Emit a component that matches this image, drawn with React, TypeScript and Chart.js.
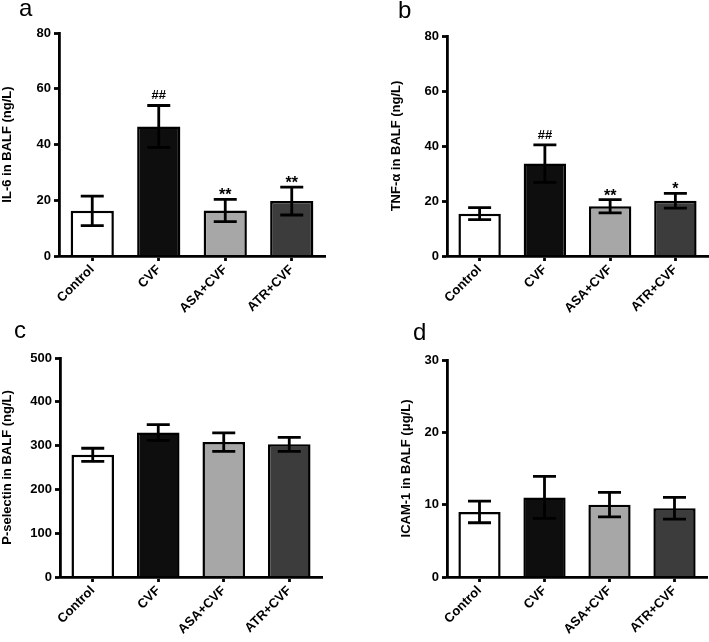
import React, { useEffect, useRef } from 'react';
import { Chart, registerables } from 'chart.js';

Chart.register(...registerables);

const FONT = '"Liberation Sans", Arial, Helvetica, sans-serif';

const categories = ['Control', 'CVF', 'ASA+CVF', 'ATR+CVF'];
const barColors = ['#ffffff', '#0e0e0e', '#a7a7a7', '#3c3c3c'];

const il6Means = [16.2, 46.5, 16.3, 19.7];
const il6Errors = [5.3, 7.5, 4.0, 5.0];
const il6Marks = ['', '##', '**', '**'];

const tnfMeans = [15.4, 33.6, 18.1, 20.1];
const tnfErrors = [2.2, 6.8, 2.4, 2.7];
const tnfMarks = ['', '##', '**', '*'];

const pselMeans = [279, 330, 308, 303];
const pselErrors = [15, 18, 21, 16];
const pselMarks = ['', '', '', ''];

const icamMeans = [9.0, 11.0, 10.0, 9.5];
const icamErrors = [1.5, 2.9, 1.7, 1.5];
const icamMarks = ['', '', '', ''];

type PanelProps = {
  left: number; top: number; width: number; height: number;
  yw: number; xh: number; padTop: number; padRight: number; titlePad: number;
  title: string; means: number[]; errors: number[]; marks: string[];
  max: number; step: number;
};

function Panel(p: PanelProps) {
  const ref = useRef<HTMLCanvasElement>(null);
  useEffect(() => {
    if (!ref.current) return;
    const errPlugin = {
      id: 'errbars',
      afterDatasetsDraw(chart: any) {
        const ctx = chart.ctx;
        const meta = chart.getDatasetMeta(0);
        const y = chart.scales.y;
        const cap = 11.5;
        ctx.save();
        ctx.strokeStyle = '#000';
        ctx.lineWidth = 2.8;
        ctx.lineCap = 'butt';
        meta.data.forEach((bar: any, i: number) => {
          const x = bar.x;
          const hi = y.getPixelForValue(p.means[i] + p.errors[i]);
          const lo = y.getPixelForValue(p.means[i] - p.errors[i]);
          ctx.beginPath();
          ctx.moveTo(x, hi); ctx.lineTo(x, lo);
          ctx.moveTo(x - cap, hi); ctx.lineTo(x + cap, hi);
          ctx.moveTo(x - cap, lo); ctx.lineTo(x + cap, lo);
          ctx.stroke();
          const m = p.marks[i];
          if (m) {
            ctx.fillStyle = '#000';
            ctx.textAlign = 'center';
            ctx.textBaseline = 'alphabetic';
            if (m.startsWith('#')) {
              ctx.font = `bold 13px ${FONT}`;
              ctx.fillText(m, x, hi - 6);
            } else {
              ctx.font = `bold 16px ${FONT}`;
              ctx.fillText(m, x, hi + 1);
            }
          }
        });
        ctx.restore();
      },
    };
    const chart = new Chart(ref.current, {
      type: 'bar',
      data: {
        labels: categories,
        datasets: [{
          data: p.means,
          backgroundColor: barColors,
          borderColor: '#000',
          borderWidth: 2.5,
          barPercentage: 0.65,
          categoryPercentage: 1,
        }],
      },
      options: {
        responsive: false,
        animation: false,
        devicePixelRatio: 1,
        layout: { padding: { top: p.padTop, right: p.padRight, left: 0, bottom: 0 } },
        plugins: { legend: { display: false }, tooltip: { enabled: false } },
        scales: {
          x: {
            afterFit: (s: any) => { s.height = p.xh; },
            grid: { offset: false, drawOnChartArea: false, drawTicks: true, tickLength: 5, tickColor: '#000', tickWidth: 2.8 },
            border: { display: true, color: '#000', width: 2.8, z: 1 },
            ticks: {
              color: '#000', minRotation: 45, maxRotation: 45, padding: 1, autoSkip: false,
              font: { family: FONT, size: 13, weight: 'bold' },
            },
          },
          y: {
            min: 0, max: p.max,
            afterFit: (s: any) => { s.width = p.yw; },
            grid: { drawOnChartArea: false, drawTicks: true, tickLength: 5, tickColor: '#000', tickWidth: 2.8 },
            border: { display: true, color: '#000', width: 2.8, z: 1 },
            ticks: { stepSize: p.step, color: '#000', padding: 3, font: { family: FONT, size: 13, weight: 'bold' } },
            title: {
              display: true, text: p.title, color: '#000',
              padding: { top: p.titlePad, bottom: 0 },
              font: { family: FONT, size: 13, weight: 'bold' },
            },
          },
        },
      },
      plugins: [errPlugin],
    } as any);
    return () => chart.destroy();
  }, []);
  return (
    <canvas
      ref={ref}
      width={p.width}
      height={p.height}
      style={{ position: 'absolute', left: p.left, top: p.top, width: p.width, height: p.height }}
    />
  );
}

const letterStyle = (left: number, top: number): React.CSSProperties => ({
  position: 'absolute', left, top, fontFamily: FONT, fontSize: 24, lineHeight: '24px', color: '#000',
});

export default function App() {
  return (
    <div style={{ position: 'fixed', left: 0, top: 0, width: 709, height: 642, background: '#fff', overflow: 'hidden' }}>
      <Panel left={0} top={0} width={330} height={320} yw={59} xh={64} padTop={33} padRight={5} titlePad={0}
        title="IL-6 in BALF (ng/L)" means={il6Means} errors={il6Errors} marks={il6Marks} max={80} step={20} />
      <Panel left={384} top={0} width={325} height={320} yw={63} xh={64} padTop={36} padRight={1} titlePad={5}
        title="TNF-α in BALF (ng/L)" means={tnfMeans} errors={tnfErrors} marks={tnfMarks} max={80} step={20} />
      <Panel left={0} top={320} width={330} height={322} yw={60} xh={65} padTop={38} padRight={8} titlePad={0}
        title="P-selectin in BALF (ng/L)" means={pselMeans} errors={pselErrors} marks={pselMarks} max={500} step={100} />
      <Panel left={396} top={320} width={313} height={322} yw={51} xh={65} padTop={40} padRight={2} titlePad={3}
        title="ICAM-1 in BALF (μg/L)" means={icamMeans} errors={icamErrors} marks={icamMarks} max={30} step={10} />
      <div style={letterStyle(19, -4)}>a</div>
      <div style={letterStyle(398, -2)}>b</div>
      <div style={letterStyle(14, 318)}>c</div>
      <div style={letterStyle(413, 320)}>d</div>
    </div>
  );
}
